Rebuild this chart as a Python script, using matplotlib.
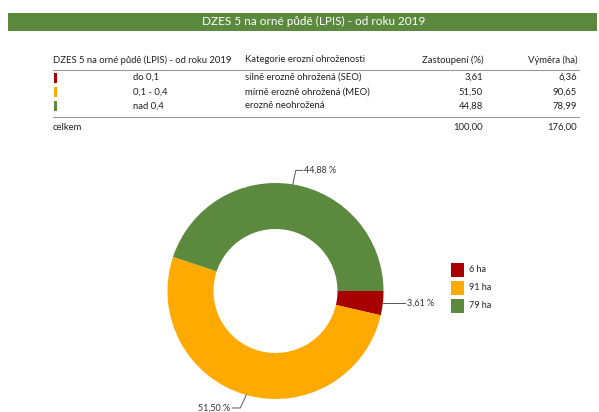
import numpy as np
import matplotlib
matplotlib.use("Agg")
import matplotlib.pyplot as plt
from matplotlib.patches import Rectangle

plt.rcParams['font.family'] = ['Lato', 'DejaVu Sans']

title = "DZES 5 na orné půdě (LPIS) - od roku 2019"
col_heads = ["DZES 5 na orné půdě (LPIS) - od roku 2019", "Kategorie erozní ohroženosti",
             "Zastoupení (%)", "Výměra (ha)"]
classes = ["do 0,1", "0,1 - 0,4", "nad 0,4"]
categories = ["silně erozně ohrožená (SEO)", "mírně erozně ohrožená (MEO)", "erozně neohrožená"]
shares = [3.61, 51.50, 44.88]
areas = [6.36, 90.65, 78.99]
total_share, total_area = 100.00, 176.00
legend_labels = ["6 ha", "91 ha", "79 ha"]
colors = ["#a80000", "#ffaa00", "#5b8a3f"]

W, H = 599, 412
fig = plt.figure(figsize=(W / 100, H / 100), dpi=100)


def px(x, y):
    return x / W, 1 - y / H


def fmt(v):
    return f"{v:.2f}".replace(".", ",")


# header bar
x0, y0 = px(8, 31)
fig.patches.append(Rectangle((x0, y0), (597 - 8) / W, 18 / H, transform=fig.transFigure,
                             color="#5b8a3f", lw=0))
fig.text(*px(314, 21.5), title, color="white", fontsize=8.5, ha="center", va="center")

# table
fs = 6.8
tc = "#222222"
fig.text(*px(53, 60), col_heads[0], fontsize=fs, va="center", color=tc)
fig.text(*px(245, 60), col_heads[1], fontsize=fs, va="center", color=tc)
fig.text(*px(483, 60), col_heads[2], fontsize=fs, va="center", ha="right", color=tc)
fig.text(*px(577, 60), col_heads[3], fontsize=fs, va="center", ha="right", color=tc)
for yy in (70, 117):
    fig.lines.append(plt.Line2D([53 / W, 579 / W], [1 - yy / H] * 2, transform=fig.transFigure,
                                color="#9a9a9a", lw=0.8))
row_y = [77.5, 92, 106]
for i in range(3):
    y = row_y[i]
    bx, by = px(54, y + 5)
    fig.patches.append(Rectangle((bx, by), 3 / W, 10 / H, transform=fig.transFigure,
                                 color=colors[i], lw=0))
    fig.text(*px(133, y), classes[i], fontsize=fs, va="center", color=tc)
    fig.text(*px(245, y), categories[i], fontsize=fs, va="center", color=tc)
    fig.text(*px(483, y), fmt(shares[i]), fontsize=fs, va="center", ha="right", color=tc)
    fig.text(*px(577, y), fmt(areas[i]), fontsize=fs, va="center", ha="right", color=tc)
fig.text(*px(53, 127), "celkem", fontsize=fs, va="center", color=tc)
fig.text(*px(483, 127), fmt(total_share), fontsize=fs, va="center", ha="right", color=tc)
fig.text(*px(577, 127), fmt(total_area), fontsize=fs, va="center", ha="right", color=tc)

# donut
cx, cy, side = 275.5, 291, 260
ax = fig.add_axes([(cx - side / 2) / W, (H - cy - side / 2) / H, side / W, side / H])
R = 1.08
wedges, _ = ax.pie(shares, colors=colors, startangle=0, counterclock=False, radius=R,
                   wedgeprops=dict(width=0.46, linewidth=0))
ax.set_xlim(-1.3, 1.3)
ax.set_ylim(-1.3, 1.3)
ax.set_aspect("equal")
ax.axis("off")

# leader lines + labels
for i, w in enumerate(wedges):
    ang = np.deg2rad((w.theta1 + w.theta2) / 2)
    x1, y1 = R * np.cos(ang), R * np.sin(ang)
    lab = fmt(shares[i]) + " %"
    if i == 0:
        pts = [(x1, y1), (x1 + 0.22, y1)]
        tx, ha = x1 + 0.24, "left"
    elif i == 1:
        pts = [(x1, y1), (x1 - 0.06, y1 - 0.13), (x1 - 0.14, y1 - 0.13)]
        tx, ha = x1 - 0.16, "right"
    else:
        pts = [(x1, y1), (x1 + 0.03, y1 + 0.14), (x1 + 0.1, y1 + 0.14)]
        tx, ha = x1 + 0.11, "left"
    xs, ys = zip(*pts)
    ax.plot(xs, ys, color="#555555", lw=0.7, clip_on=False)
    ax.text(tx, ys[-1], lab, fontsize=6.5, ha=ha, va="center", color="#333333", clip_on=False)

# legend
for i in range(3):
    ly = 263 + i * 18
    lx, lyb = px(451, ly + 14)
    fig.patches.append(Rectangle((lx, lyb), 13 / W, 14 / H, transform=fig.transFigure,
                                 color=colors[i], lw=0))
    fig.text(*px(469, ly + 7), legend_labels[i], fontsize=6.5, va="center", color=tc)

fig.savefig("out.png", dpi=100)
